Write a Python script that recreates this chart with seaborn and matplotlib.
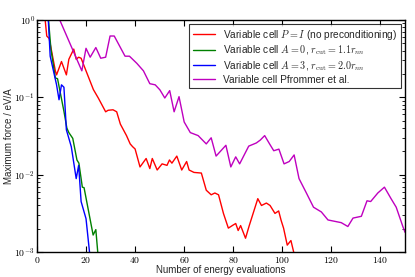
import numpy as np
import pandas as pd
import seaborn as sns
import matplotlib
matplotlib.use("Agg")
import matplotlib.pyplot as plt
from matplotlib.ticker import FuncFormatter, LogLocator

# values
red_x = [3, 4, 5, 7.5, 8, 10, 12, 13, 15, 16, 17, 18, 20, 23, 25, 28, 29, 31, 32.5, 34,
         36.5, 38, 39, 40, 42, 44.5, 46, 47, 49, 51, 53, 54, 55, 57, 59, 61, 62, 64, 67,
         69, 71, 72.5, 74, 76, 78, 80, 81, 82, 83, 85, 86.5, 90, 91.5, 93.5, 95, 97, 98.5,
         99.5, 100.5, 102, 103.5, 105]
red_y = [1.3, 0.62, 0.575, 0.22, 0.195, 0.29, 0.195, 0.31, 0.42, 0.31, 0.33, 0.32, 0.22,
         0.126, 0.098, 0.065, 0.068, 0.069, 0.065, 0.045, 0.032, 0.025, 0.023, 0.0215,
         0.0126, 0.0162, 0.012, 0.0162, 0.0115, 0.0138, 0.0132, 0.0155, 0.0141, 0.0174,
         0.0115, 0.0148, 0.0115, 0.0107, 0.0105, 0.0063, 0.0055, 0.0058, 0.0055, 0.00316,
         0.00204, 0.00224, 0.00234, 0.0019, 0.0022, 0.00151, 0.00219, 0.0049, 0.004,
         0.0043, 0.004, 0.00316, 0.0034, 0.00257, 0.00204, 0.00123, 0.00141, 0.00089]

green_x = [4.5, 5.7, 7.5, 8.4, 11, 12.2, 13, 14.6, 16.3, 17.1, 18.5, 19.2, 22.9, 24, 24.8]
green_y = [1.2, 0.42, 0.178, 0.174, 0.066, 0.04, 0.035, 0.0295, 0.0155, 0.0141, 0.0069,
           0.0068, 0.00166, 0.00195, 0.00098]

blue_x = [4.5, 5.4, 8, 9, 10, 11, 12, 14, 16, 17, 18, 20, 21.5]
blue_y = [1.2, 0.34, 0.145, 0.093, 0.145, 0.135, 0.038, 0.023, 0.0089, 0.0132, 0.0045,
          0.0027, 0.00095]

mag_x = [9, 18.3, 20, 21.7, 24, 26, 28, 29.8, 31.5, 35.9, 37.7, 40.7, 43.4, 46, 48.2,
         50.1, 52.1, 54.1, 55.9, 57.9, 60, 62.5, 65.7, 69, 71, 73, 77, 79, 81, 82.6, 86.3,
         89.4, 91, 92.8, 94.8, 96.5, 98.6, 100.7, 102.8, 104.8, 106.8, 109.8, 112.7, 115.9,
         118.6, 124, 126.7, 128.8, 132.2, 134.5, 136, 138.9, 141.6, 144.3, 146.4, 149.1, 150]
mag_y = [1.05, 0.22, 0.43, 0.33, 0.44, 0.32, 0.33, 0.62, 0.62, 0.34, 0.34, 0.275, 0.22,
         0.15, 0.145, 0.125, 0.098, 0.122, 0.065, 0.102, 0.048, 0.035, 0.032, 0.025, 0.030,
         0.0174, 0.024, 0.0126, 0.017, 0.0138, 0.0234, 0.0257, 0.028, 0.032, 0.025, 0.0204,
         0.0214, 0.0138, 0.0148, 0.018, 0.0089, 0.0058, 0.0038, 0.0033, 0.0026, 0.0024,
         0.00214, 0.00275, 0.0029, 0.0046, 0.0045, 0.0058, 0.0069, 0.0049, 0.0038, 0.00214,
         0.0018]

labels = [
    r"Variable cell $P = I$ (no preconditioning)",
    r"Variable cell $A = 0$, $r_\mathrm{cut} = 1.1 r_{nn}$",
    r"Variable cell $A = 3$, $r_\mathrm{cut} = 2.0 r_{nn}$",
    "Variable cell Pfrommer et al.",
]
colors = ["#ff0000", "#008000", "#0000ff", "#bf00bf"]

sns.set_style("ticks")
plt.rcParams["font.family"] = ["Liberation Sans", "DejaVu Sans"]
plt.rcParams["mathtext.fontset"] = "cm"

fig = plt.figure(figsize=(4.15, 2.77), dpi=100)
ax = fig.add_axes([0.089, 0.090, 0.887, 0.838])

series = [(red_x, red_y), (green_x, green_y), (blue_x, blue_y), (mag_x, mag_y)]
for (xs, ys), lab, c in zip(series, labels, colors):
    sns.lineplot(x=xs, y=ys, color=c, label=lab, linewidth=1.0, ax=ax, sort=False)

ax.set_yscale("log")
ax.set_xlim(0, 150)
ax.set_ylim(1e-3, 1)
ax.set_xticks([0, 20, 40, 60, 80, 100, 120, 140])
ax.xaxis.set_major_formatter(FuncFormatter(lambda v, p: r"$%d$" % v))
ax.yaxis.set_major_locator(LogLocator(base=10, numticks=10))
ax.yaxis.set_minor_locator(LogLocator(base=10, subs=np.arange(2, 10), numticks=10))
ax.yaxis.set_major_formatter(FuncFormatter(lambda v, p: r"$10^{%d}$" % round(np.log10(v))))

ax.tick_params(which="both", direction="in", top=True, right=True, labelsize=7,
               colors="black")
ax.tick_params(axis="x", pad=2)
ax.tick_params(axis="y", pad=1.5)
ax.tick_params(which="major", length=4, width=0.8)
ax.tick_params(which="minor", length=2, width=0.6)
for s in ax.spines.values():
    s.set_color("black")
    s.set_linewidth(1.0)

ax.set_xlabel("Number of energy evaluations", fontsize=7, labelpad=0)
ax.set_ylabel("Maximum force / eV/A", fontsize=7, labelpad=0)

leg = ax.legend(loc="upper right", fontsize=7.3, frameon=True, fancybox=False,
                borderaxespad=0.4, handlelength=2.2, labelspacing=0.2,
                borderpad=0.35)
leg.get_frame().set_edgecolor("black")
leg.get_frame().set_linewidth(0.8)

fig.savefig("out.png", dpi=100)
